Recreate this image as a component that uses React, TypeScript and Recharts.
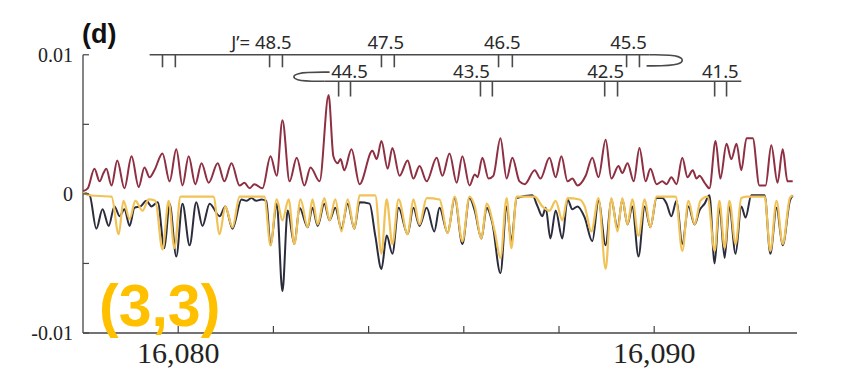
import { LineChart, Line, XAxis, YAxis, ReferenceLine, ReferenceDot } from 'recharts';

// spectra, signal read in units of 10^-3
const redWavenumber = [
  16078.00, 16078.10, 16078.24, 16078.35, 16078.43, 16078.49, 16078.60, 16078.72, 16078.87, 16079.02,
  16079.17, 16079.29, 16079.40, 16079.50, 16079.67, 16079.82, 16079.96, 16080.09, 16080.22, 16080.36,
  16080.49, 16080.64, 16080.83, 16080.97, 16081.12, 16081.29, 16081.39, 16081.50, 16081.60, 16081.77,
  16081.94, 16082.07, 16082.19, 16082.34, 16082.49, 16082.65, 16082.78, 16082.97, 16083.16, 16083.26,
  16083.35, 16083.41, 16083.49, 16083.64, 16083.81, 16084.08, 16084.17, 16084.27, 16084.40, 16084.50,
  16084.65, 16084.82, 16084.94, 16085.07, 16085.22, 16085.43, 16085.55, 16085.70, 16085.85, 16085.97,
  16086.12, 16086.23, 16086.29, 16086.39, 16086.52, 16086.62, 16086.77, 16086.90, 16087.02, 16087.17,
  16087.28, 16087.49, 16087.61, 16087.80, 16087.93, 16088.05, 16088.18, 16088.28, 16088.39, 16088.56,
  16088.70, 16088.83, 16088.98, 16089.10, 16089.25, 16089.33, 16089.44, 16089.57, 16089.69, 16089.82,
  16089.92, 16090.05, 16090.17, 16090.26, 16090.36, 16090.47, 16090.59, 16090.70, 16090.81, 16090.89,
  16090.95, 16091.06, 16091.16, 16091.29, 16091.39, 16091.52, 16091.62, 16091.73, 16091.83, 16091.94,
  16092.07, 16092.21, 16092.34, 16092.46, 16092.59, 16092.70, 16092.80, 16092.91,
];
const redSignal = [
  0.2, 0.4, 1.8, 0.9, 1.5, 1.8, 0.6, 2.4, 0.4, 2.7,
  0.5, 1.9, 1.2, 1.7, 2.9, 0.9, 3.2, 0.6, 2.7, 0.7,
  2.2, 0.8, 2.2, 0.9, 2.2, 0.6, 0.8, 0.4, 0.7, 0.4,
  2.7, 1.3, 5.3, 0.9, 2.6, 0.6, 1.9, 0.9, 7.1, 2.7,
  2.2, 2.5, 1.7, 3.2, 0.7, 3.1, 2.5, 3.8, 1.8, 3.3,
  1.3, 2.4, 1.1, 2.0, 0.9, 2.6, 1.3, 2.9, 0.8, 2.7,
  0.6, 1.4, 1.2, 2.6, 1.1, 1.3, 4.0, 1.1, 2.6, 0.9,
  0.7, 1.7, 1.1, 2.6, 1.2, 2.7, 0.9, 1.1, 0.6, 1.3,
  2.6, 1.2, 3.9, 1.1, 2.0, 1.5, 2.2, 0.9, 3.3, 0.9,
  1.8, 0.7, 0.9, 0.7, 1.2, 0.7, 2.6, 1.2, 1.7, 1.1,
  1.3, 0.8, 0.4, 3.8, 1.1, 3.6, 2.5, 3.6, 1.7, 4.0,
  4.0, 0.6, 0.6, 3.5, 0.8, 3.2, 0.9, 0.9,
];

const blackWavenumber = [
  16078.00, 16078.14, 16078.28, 16078.41, 16078.54, 16078.66, 16078.77, 16078.87, 16078.98, 16079.08,
  16079.21, 16079.33, 16079.44, 16079.57, 16079.71, 16079.82, 16079.96, 16080.09, 16080.24, 16080.38,
  16080.51, 16080.66, 16080.87, 16080.99, 16081.14, 16081.33, 16081.43, 16081.54, 16081.64, 16081.75,
  16081.85, 16081.94, 16082.07, 16082.19, 16082.30, 16082.44, 16082.55, 16082.72, 16082.82, 16082.93,
  16083.07, 16083.18, 16083.30, 16083.43, 16083.56, 16083.70, 16083.81, 16084.02, 16084.14, 16084.27,
  16084.38, 16084.50, 16084.63, 16084.82, 16084.94, 16085.07, 16085.22, 16085.38, 16085.49, 16085.66,
  16085.81, 16085.97, 16086.12, 16086.23, 16086.37, 16086.48, 16086.60, 16086.77, 16086.90, 16087.00,
  16087.11, 16087.44, 16087.55, 16087.65, 16087.72, 16087.82, 16087.93, 16088.07, 16088.18, 16088.28,
  16088.39, 16088.54, 16088.70, 16088.83, 16088.98, 16089.10, 16089.23, 16089.33, 16089.44, 16089.54,
  16089.67, 16089.80, 16089.92, 16090.05, 16090.17, 16090.26, 16090.36, 16090.47, 16090.59, 16090.72,
  16090.85, 16090.95, 16091.06, 16091.16, 16091.27, 16091.37, 16091.48, 16091.58, 16091.71, 16091.83,
  16091.92, 16092.04, 16092.32, 16092.44, 16092.57, 16092.70, 16092.85, 16092.91,
];
const blackSignal = [
  0.1, -0.1, -2.5, -1.1, -2.3, -0.9, -1.6, -1.1, -2.3, -1.0,
  -0.9, -0.5, -0.9, -0.6, -3.9, -0.7, -4.5, -0.7, -3.7, -0.6,
  -2.3, -0.7, -1.6, -0.9, -2.5, -0.4, -0.5, -0.3, -0.5, -0.4,
  -0.5, -3.7, -0.7, -7.0, -1.2, -3.6, -1.0, -2.4, -1.0, -2.3,
  -0.7, -1.9, -1.0, -2.5, -0.7, -2.5, -0.6, -0.7, -3.0, -5.4,
  -3.0, -4.3, -1.0, -2.9, -1.0, -2.3, -1.0, -2.7, -1.0, -2.8,
  -0.3, -3.6, -0.3, -1.2, -3.2, -1.0, -2.1, -5.7, -0.9, -3.4,
  -0.3, -0.1, -0.9, -1.6, -1.0, -3.2, -1.2, -3.2, -0.4, -1.1,
  -0.9, -1.7, -3.4, -0.5, -3.7, -0.4, -2.5, -0.4, -2.2, -0.9,
  -4.5, -0.9, -2.4, -0.3, -0.3, -0.7, -1.6, -0.5, -3.6, -0.9,
  -2.2, -1.2, -0.7, -0.1, -5.0, -0.9, -4.6, -0.9, -4.3, -0.9,
  -1.7, -0.1, -0.1, -4.3, -1.0, -3.7, -0.5, -0.1,
];

const yellowWavenumber = [
  16078.00, 16078.14, 16078.60, 16078.75, 16078.85, 16078.98, 16079.10, 16079.25, 16079.38, 16079.52,
  16079.67, 16079.80, 16079.92, 16080.05, 16080.45, 16080.74, 16080.87, 16080.99, 16081.14, 16081.29,
  16081.81, 16081.94, 16082.07, 16082.19, 16082.32, 16082.44, 16082.57, 16082.72, 16082.82, 16082.93,
  16083.07, 16083.18, 16083.30, 16083.43, 16083.56, 16083.70, 16083.81, 16084.14, 16084.27, 16084.38,
  16084.50, 16084.63, 16084.82, 16084.94, 16085.07, 16085.22, 16085.49, 16085.66, 16085.81, 16085.97,
  16086.12, 16086.23, 16086.37, 16086.48, 16086.65, 16086.77, 16086.90, 16087.00, 16087.11, 16087.49,
  16087.65, 16087.80, 16087.93, 16088.07, 16088.18, 16088.43, 16088.54, 16088.68, 16088.83, 16088.98,
  16089.10, 16089.23, 16089.33, 16089.44, 16089.54, 16089.67, 16089.80, 16089.92, 16090.05, 16090.45,
  16090.59, 16090.72, 16090.85, 16090.97, 16091.12, 16091.27, 16091.37, 16091.48, 16091.58, 16091.71,
  16091.83, 16091.94, 16092.32, 16092.44, 16092.57, 16092.70, 16092.85, 16092.91,
];
const yellowSignal = [
  0.1, -0.1, -0.2, -2.9, -0.5, -1.8, -0.5, -1.2, -0.4, -0.5,
  -4.0, -0.5, -3.9, -0.2, -0.2, -0.2, -2.9, -0.9, -2.4, -0.2,
  -0.2, -3.7, -0.4, -1.9, -0.4, -3.6, -0.4, -2.4, -0.4, -2.2,
  -0.3, -1.9, -0.4, -2.7, -0.4, -2.5, -0.1, -0.1, -4.3, -0.4,
  -3.6, -0.4, -2.9, -0.4, -2.2, -0.3, -0.4, -2.8, -0.2, -3.4,
  -0.2, -0.9, -3.2, -0.7, -2.7, -4.6, -0.3, -3.9, -0.2, -0.2,
  -0.9, -1.2, -0.5, -1.9, -0.3, -0.4, -0.9, -2.7, -0.3, -5.4,
  -0.3, -2.7, -0.3, -2.2, -0.4, -3.0, -0.4, -2.4, -0.2, -0.2,
  -4.1, -0.5, -2.2, -0.5, -0.2, -4.1, -0.5, -3.9, -0.5, -3.6,
  -0.3, -0.2, -0.2, -4.1, -0.5, -3.6, -0.3, -0.1,
];

// rotational assignment bars
const upperTicks = [16079.67, 16079.94, 16081.92, 16082.19, 16084.27, 16084.54, 16086.73, 16087.02, 16089.42, 16089.69];
const lowerTicks = [16083.37, 16083.62, 16086.35, 16086.60, 16088.96, 16089.23, 16091.27, 16091.52];
const upperLabels = ['J\u2019= 48.5', '47.5', '46.5', '45.5'];
const upperLabelX = [16081.75, 16084.36, 16086.81, 16089.46];
const lowerLabels = ['44.5', '43.5', '42.5', '41.5'];
const lowerLabelX = [16083.60, 16086.16, 16088.98, 16091.39];
const upperHookX = [16089.90, 16090.62, 16090.62, 16089.84];
const upperHookY = [0.0100, 0.0100, 0.0092, 0.0092];
const lowerHookX = [16083.18, 16082.40, 16082.40, 16083.07];
const lowerHookY = [0.00875, 0.00875, 0.0081, 0.0081];

const xTicks = [16080, 16082, 16084, 16086, 16088, 16090, 16092];
const xLabeled = [16080, 16090];
const yTicks = [-0.01, -0.005, 0, 0.005, 0.01];
const yLabels: Record<string, string> = { '-0.01': '-0.01', '0': '0', '0.01': '0.01' };

const toPoints = (xs: number[], ys: number[], scale = 1) => xs.map((x, i) => ({ x, y: ys[i] * scale }));

const AXIS = '#444';
const BAR = '#4a4a4a';

const XTick = ({ x, y, payload }: any) => (
  <g>
    <line x1={x} y1={y} x2={x} y2={y - 7} stroke={AXIS} strokeWidth={1.2} />
    {xLabeled.includes(payload.value) && (
      <text x={x} y={y + 30} textAnchor="middle" fontFamily="Liberation Serif" fontSize={30} fill="#222">
        {payload.value.toLocaleString('en-US')}
      </text>
    )}
  </g>
);

const YTick = ({ x, y, payload }: any) => {
  const label = yLabels[String(Math.round(payload.value * 1000) / 1000)];
  return (
    <g>
      <line x1={x} y1={y} x2={x + 6} y2={y} stroke={AXIS} strokeWidth={1.2} />
      {label && (
        <text x={x - 10} y={y + 7} textAnchor="end" fontFamily="Liberation Serif" fontSize={20} fill="#222">
          {label}
        </text>
      )}
    </g>
  );
};

const barLabel = (text: string) => (p: any) => (
  <text x={p.cx} y={p.cy} textAnchor="middle" fontFamily="Noto Sans" fontSize={18.5} fill="#2a2a2a">
    {text}
  </text>
);

export default function App() {
  const red = toPoints(redWavenumber, redSignal, 1e-3);
  const black = toPoints(blackWavenumber, blackSignal, 1e-3);
  const yellow = toPoints(yellowWavenumber, yellowSignal, 1e-3);
  const upperHook = toPoints(upperHookX, upperHookY);
  const lowerHook = toPoints(lowerHookX, lowerHookY);

  return (
    <div style={{ position: 'absolute', left: 0, top: 0, width: 841, height: 371, background: '#fff' }}>
      <LineChart width={841} height={371} margin={{ top: 20, right: 44, bottom: 0, left: 0 }}>
        <XAxis
          dataKey="x"
          type="number"
          domain={[16078, 16093]}
          ticks={xTicks}
          height={38}
          tickSize={0}
          tickMargin={0}
          tickLine={false}
          axisLine={{ stroke: AXIS, strokeWidth: 1.3 }}
          tick={(p: any) => <XTick {...p} />}
        />
        <YAxis
          type="number"
          domain={[-0.01, 0.0125]}
          ticks={yTicks}
          width={83}
          tickSize={0}
          tickMargin={0}
          tickLine={false}
          axisLine={false}
          tick={(p: any) => <YTick {...p} />}
        />
        <ReferenceLine segment={[{ x: 16078, y: -0.01 }, { x: 16078, y: 0.01 }]} stroke={AXIS} strokeWidth={1.3} ifOverflow="visible" />

        <ReferenceLine segment={[{ x: 16079.4, y: 0.01 }, { x: 16089.9, y: 0.01 }]} stroke={BAR} strokeWidth={1.6} ifOverflow="visible" />
        <ReferenceLine segment={[{ x: 16083.07, y: 0.0081 }, { x: 16091.83, y: 0.0081 }]} stroke={BAR} strokeWidth={1.6} ifOverflow="visible" />
        {upperTicks.map((t) => (
          <ReferenceLine key={'u' + t} segment={[{ x: t, y: 0.01 }, { x: t, y: 0.0091 }]} stroke={BAR} strokeWidth={1.6} ifOverflow="visible" />
        ))}
        {lowerTicks.map((t) => (
          <ReferenceLine key={'l' + t} segment={[{ x: t, y: 0.0081 }, { x: t, y: 0.007 }]} stroke={BAR} strokeWidth={1.6} ifOverflow="visible" />
        ))}
        {upperLabels.map((s, i) => (
          <ReferenceDot key={s} x={upperLabelX[i]} y={0.0104} r={1} ifOverflow="visible" shape={barLabel(s)} />
        ))}
        {lowerLabels.map((s, i) => (
          <ReferenceDot key={s} x={lowerLabelX[i]} y={0.0083} r={1} ifOverflow="visible" shape={barLabel(s)} />
        ))}

        <Line data={upperHook} dataKey="y" type="basis" stroke={BAR} strokeWidth={1.6} dot={false} isAnimationActive={false} />
        <Line data={lowerHook} dataKey="y" type="basis" stroke={BAR} strokeWidth={1.6} dot={false} isAnimationActive={false} />

        <Line data={red} dataKey="y" type="monotone" stroke="#8e2f42" strokeWidth={2} dot={false} isAnimationActive={false} />
        <Line data={black} dataKey="y" type="monotone" stroke="#2b2c3c" strokeWidth={2} dot={false} isAnimationActive={false} />
        <Line data={yellow} dataKey="y" type="monotone" stroke="#f0c257" strokeWidth={2.2} dot={false} isAnimationActive={false} />
      </LineChart>
      <div style={{ position: 'absolute', left: 82, top: 21, font: 'bold 27px "Liberation Sans"', lineHeight: 1, color: '#111' }}>(d)</div>
      <div style={{ position: 'absolute', left: 99, top: 277, font: 'bold 59px "Liberation Sans"', lineHeight: 1, color: '#FFC000' }}>(3,3)</div>
    </div>
  );
}
